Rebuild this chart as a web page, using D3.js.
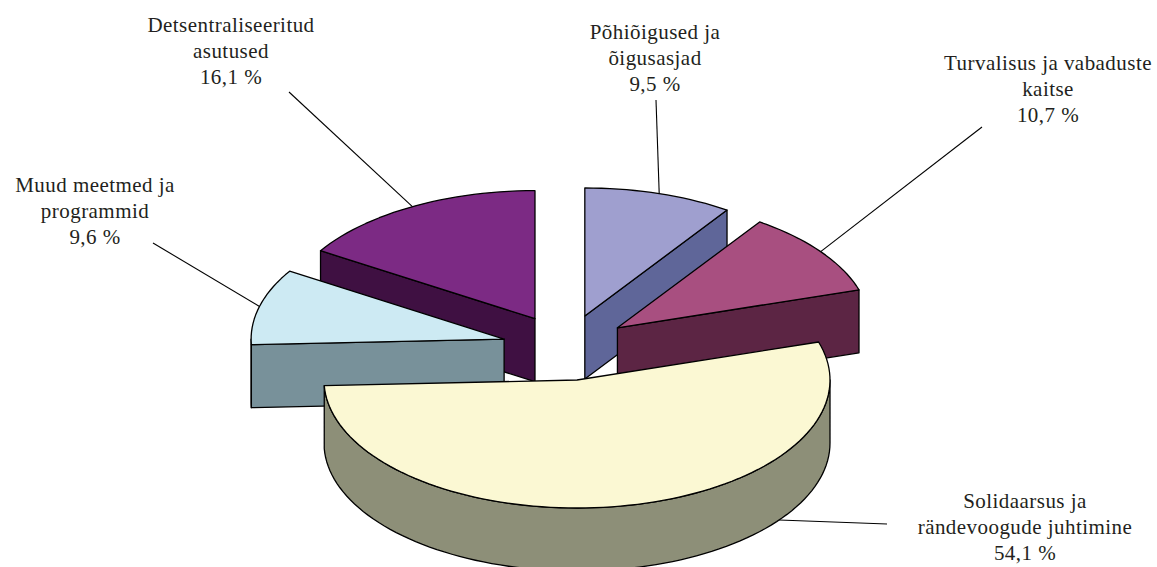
<!DOCTYPE html>
<html>
<head>
<meta charset="utf-8">
<script src="https://cdn.jsdelivr.net/npm/d3@7/dist/d3.min.js"></script>
<style>
  html, body { margin: 0; padding: 0; background: #fff; overflow: hidden; }
</style>
</head>
<body>
<script>
// Data
const names = ["Põhiõigused ja õigusasjad", "Turvalisus ja vabaduste kaitse", "Solidaarsus ja rändevoogude juhtimine", "Muud meetmed ja programmid", "Detsentraliseeritud asutused"];
const labelLines = [
    ["Põhiõigused ja", "õigusasjad"],
    ["Turvalisus ja vabaduste", "kaitse"],
    ["Solidaarsus ja", "rändevoogude juhtimine"],
    ["Muud meetmed ja", "programmid"],
    ["Detsentraliseeritud", "asutused"]
];
const shares = [9.5, 10.7, 54.1, 9.6, 16.1];
const shareLabels = ["9,5 %", "10,7 %", "54,1 %", "9,6 %", "16,1 %"];

// Colours of the top faces and of the walls
const topColors = ["#9f9fcf", "#a84f80", "#fbf8d3", "#cdeaf3", "#7c2a84"];
const wallColors = ["#5f6699", "#5c2544", "#8d8f78", "#78919a", "#3f1042"];

// Layout
const width = 1157;
const height = 567;
const cx = 566, cy = 347.5;
const rx = 253, ry = 128;
const explodeX = 64, explodeY = 33;
const depth = 63;

// label centre, first baseline; leader end point, where it starts on the rim
const labelX = [655, 1048, 1025, 95, 231];
const labelY = [39, 70, 508, 192, 32];
const leaderEnd = [[656, 100], [982, 127], [887, 524], [153, 243], [289, 92]];
const leaderAngle = [null, null, 127, null, null];

const svg = d3.select("body").append("svg")
    .attr("width", width)
    .attr("height", height)
    .style("display", "block")
    .style("background", "#fff");

const toDeg = 180 / Math.PI;
const pie = d3.pie().sort(null).value(d => d);
const slices = pie(shares).map((d, i) => {
    const a0 = d.startAngle * toDeg;
    const a1 = d.endAngle * toDeg;
    const mid = (a0 + a1) / 2;
    return {
        i, a0, a1, mid,
        apexX: cx + explodeX * Math.sin(mid / toDeg),
        apexY: cy - explodeY * Math.cos(mid / toDeg)
    };
});

// point on the rim of a slice, optionally pushed down to the bottom of the wall
function rim(s, deg, drop = 0) {
    return [
        s.apexX + rx * Math.sin(deg / toDeg),
        s.apexY - ry * Math.cos(deg / toDeg) + drop
    ];
}

function arcPoints(s, from, to, drop = 0) {
    const n = Math.max(2, Math.ceil(Math.abs(to - from) / 2));
    return d3.range(n + 1).map(k => rim(s, from + (to - from) * k / n, drop));
}

const line = d3.line();
const closed = pts => line(pts) + "Z";

function face(d, fill) {
    svg.append("path")
        .attr("d", d)
        .attr("fill", fill)
        .attr("stroke", "#000")
        .attr("stroke-width", 1.3)
        .attr("stroke-linejoin", "round");
}

// flat side of a slice, only drawn if it looks towards the viewer
function radialWall(s, deg) {
    const p = rim(s, deg);
    const q = rim(s, deg, depth);
    face(closed([[s.apexX, s.apexY], p, q, [s.apexX, s.apexY + depth]]), wallColors[s.i]);
}

function drawSlice(s) {
    if (s.a0 > 180 && s.a0 < 360) radialWall(s, s.a0);
    if (s.a1 > 0 && s.a1 < 180) radialWall(s, s.a1);

    // curved side, front half of the ellipse only
    const from = Math.max(s.a0, 90);
    const to = Math.min(s.a1, 270);
    if (to > from) {
        face(closed(arcPoints(s, from, to).concat(arcPoints(s, to, from, depth))), wallColors[s.i]);
    }

    face(closed([[s.apexX, s.apexY]].concat(arcPoints(s, s.a0, s.a1))), topColors[s.i]);
}

// leader lines go under the slices
slices.forEach(s => {
    const start = leaderAngle[s.i] === null
        ? rim(s, s.mid)
        : rim(s, leaderAngle[s.i], depth);
    svg.append("line")
        .attr("x1", start[0]).attr("y1", start[1])
        .attr("x2", leaderEnd[s.i][0]).attr("y2", leaderEnd[s.i][1])
        .attr("stroke", "#000")
        .attr("stroke-width", 1.1);
});

// back slices first, the big one last
[0, 4, 1, 3, 2].forEach(i => drawSlice(slices[i]));

// labels
slices.forEach(s => {
    const text = svg.append("text")
        .attr("text-anchor", "middle")
        .attr("font-family", "'Liberation Serif', serif")
        .attr("font-size", 21)
        .attr("fill", "#231f20")
        .attr("letter-spacing", 0.45);
    labelLines[s.i].concat(shareLabels[s.i]).forEach((t, k) => {
        text.append("tspan")
            .attr("x", labelX[s.i])
            .attr("y", labelY[s.i] + k * 25.8)
            .text(t);
    });
});
</script>
</body>
</html>
